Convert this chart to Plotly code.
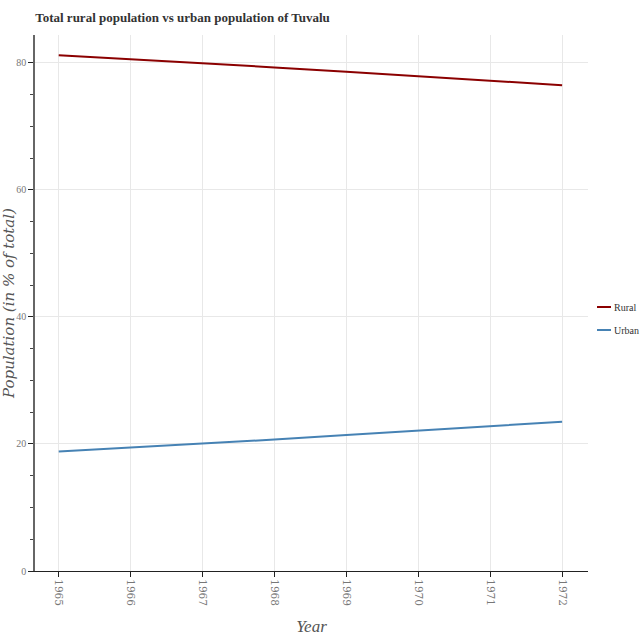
import plotly.graph_objects as go

years = [1965, 1966, 1967, 1968, 1969, 1970, 1971, 1972]
rural = [81.2, 80.6, 79.9, 79.3, 78.6, 77.9, 77.2, 76.5]
urban = [18.8, 19.4, 20.1, 20.7, 21.4, 22.1, 22.8, 23.5]
series_names = ["Rural", "Urban"]
series_colors = ["#8b0000", "#4682b4"]

fig = go.Figure()
for name, vals, col in zip(series_names, [rural, urban], series_colors):
    fig.add_trace(go.Scatter(x=years, y=vals, mode="lines", name=name,
                             line=dict(color=col, width=2), showlegend=False))

# compact legend (short line + label), placed right of the plot area
legend_y = [0.4925, 0.4496]
for name, col, ly in zip(series_names, series_colors, legend_y):
    fig.add_shape(type="line", xref="paper", yref="paper",
                  x0=1.0163, x1=1.0416, y0=ly, y1=ly,
                  line=dict(color=col, width=2))
    fig.add_annotation(xref="paper", yref="paper", x=1.043, y=ly,
                       xanchor="left", yanchor="middle", showarrow=False,
                       text=name, font=dict(family="Liberation Serif", size=10, color="#333333"))

fig.update_layout(
    width=640, height=640,
    paper_bgcolor="white", plot_bgcolor="white",
    margin=dict(l=35, r=52, t=35, b=69, autoexpand=False),
    title=dict(text="<b>Total rural population vs urban population of Tuvalu</b>",
               x=0.055, xanchor="left", y=0.972, yanchor="middle",
               font=dict(family="Liberation Serif", size=13, color="#333333")),
    showlegend=False,
)
fig.update_xaxes(
    range=[1964.67, 1972.36], tickmode="array", tickvals=years,
    ticktext=[str(y) for y in years], tickangle=90, automargin=False,
    showgrid=True, gridcolor="#e8e8e8", gridwidth=1,
    showline=True, linecolor="#222222", linewidth=1.3,
    ticks="outside", ticklen=5, tickcolor="#222222",
    tickfont=dict(family="DejaVu Serif", size=10.5, color="#777777"),
    title=dict(text="<i>Year</i>", font=dict(family="Liberation Serif", size=17, color="#555555"),
               standoff=14),
    zeroline=False,
)
fig.update_yaxes(
    range=[0, 84.4], tickmode="array", tickvals=[0, 20, 40, 60, 80], automargin=False,
    showgrid=True, gridcolor="#e8e8e8", gridwidth=1,
    showline=True, linecolor="#666666", linewidth=1.5,
    ticks="outside", ticklen=5, tickcolor="#222222",
    minor=dict(tickvals=[5, 10, 15, 25, 30, 35, 45, 50, 55, 65, 70, 75], ticks="outside",
               ticklen=3, tickcolor="#444444", showgrid=False),
    tickfont=dict(family="Liberation Serif", size=10, color="#777777"),
    title=dict(text="<i>Population (in % of total)</i>",
               font=dict(family="DejaVu Serif", size=15, color="#555555"), standoff=6),
    zeroline=False,
)

fig.write_html("out.html", config={"displayModeBar": False},
               post_script="document.body.style.margin='0px';")
